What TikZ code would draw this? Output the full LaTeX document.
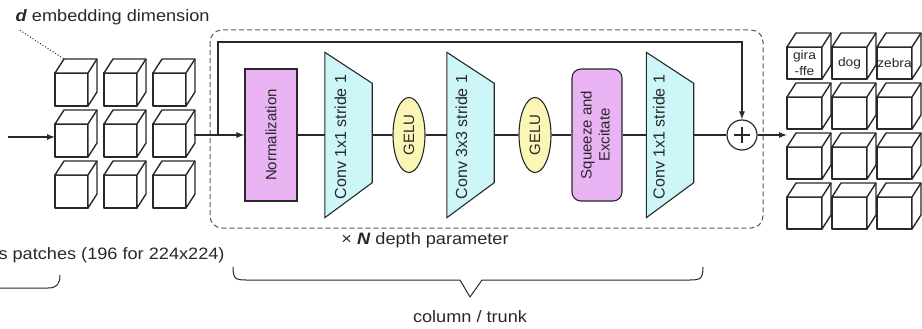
\documentclass[tikz,border=0pt]{standalone}
\usepackage{fontspec}
\setmainfont{Liberation Sans}
\newfontfamily\widesans[FakeStretch=1.1]{Liberation Sans}
\usepackage{graphicx}
\usepackage{tikz}
\usetikzlibrary{arrows.meta}
\usetikzlibrary{shapes.geometric}
\usetikzlibrary{positioning}

\definecolor{normviolet}{RGB}{234,180,244}
\definecolor{convcyan}{RGB}{204,246,248}
\definecolor{geluyellow}{RGB}{252,246,182}
\definecolor{inkgray}{RGB}{40,40,40}

% one patch cube, front face top left at (#1,#2), size #3 x #4
\newcommand{\patchcube}[4]{%
  \filldraw[cubeline] (#1,#2) rectangle ++(#3,#4);
  \filldraw[cubeline] (#1,#2) -- ++(9,-14) -- ++(#3,0) -- ++(0,#4) -- ++(-9,14) -- ++(0,-#4) -- cycle;
  \draw[cubeline] (#1+#3,#2) -- ++(9,-14);
}
% trapezoid behind an (empty) conv node
\newcommand{\convtrap}[1]{%
  \draw[trapline] (#1.north west) -- ([yshift=-31pt]#1.north east) -- ([yshift=35pt]#1.south east) -- (#1.south west) -- cycle;
}

\begin{document}
\begin{tikzpicture}[x=1pt, y=-1pt, >={Latex[length=8pt,width=6pt]},
    font=\fontsize{16.5}{19}\widesans,
    every node/.append style={text=inkgray},
    flow/.style={draw=inkgray, line width=1.1pt},
    cubeline/.style={draw=inkgray, fill=white, line width=1.4pt, line join=round},
    trapline/.style={draw=inkgray, fill=convcyan, line width=1.1pt},
    normbox/.style={rectangle, draw=inkgray, fill=normviolet, line width=1.1pt, minimum width=52pt, minimum height=132pt, inner sep=0pt, font=\fontsize{15}{18}\selectfont},
    sebox/.style={normbox, minimum width=50pt, rounded corners=9pt},
    convbox/.style={rectangle, minimum width=47pt, minimum height=165pt, inner sep=0pt},
    convtext/.style={inner sep=0pt, font=\fontsize{16}{18}\selectfont},
    gelubox/.style={ellipse, draw=inkgray, fill=geluyellow, line width=1.1pt, minimum width=32pt, minimum height=75pt, inner sep=0pt, font=\fontsize{15}{18}\selectfont},
    addcircle/.style={circle, draw=inkgray, line width=1.2pt, minimum size=30pt, inner sep=0pt},
    cubetext/.style={align=center, inner sep=0pt, font=\fontsize{12.5}{16}\widesans},
    dashbox/.style={draw=black!65, line width=1pt, dash pattern=on 5pt off 3pt, rounded corners=12pt},
    bracket/.style={draw=inkgray, line width=1pt, line join=round}]
    \useasboundingbox (0,0) rectangle (922,329);
    \clip (0,0) rectangle (922,329);

    % input patches
    \patchcube{55}{73}{33}{33}
    \patchcube{104}{73}{33}{33}
    \patchcube{153}{73}{33}{33}
    \patchcube{55}{124}{33}{33}
    \patchcube{104}{124}{33}{33}
    \patchcube{153}{124}{33}{33}
    \patchcube{55}{175}{33}{33}
    \patchcube{104}{175}{33}{33}
    \patchcube{153}{175}{33}{33}

    \node (dimlabel) [anchor=west] at (12,17) {\textbf{\textit{d}} embedding dimension};
    \coordinate (cubecorner) at (64,59);
    \draw[inkgray, dotted, line width=1pt] ([xshift=8pt,yshift=-2pt]dimlabel.south west) -- (cubecorner);
    \node (patchlabel) [anchor=west] at (-5,255) {s patches (196 for 224x224)};
    \draw[bracket] (0,288) -- (48,288) .. controls (57,288) and (60,284) .. (60,275);

    \coordinate (leftend) at (8,137);
    \coordinate (gridin) at (55,137);
    \draw[flow, ->] (leftend) -- (gridin);

    % block
    \draw[dashbox] (210,30) rectangle (763,228);

    \node (norm) [normbox] at (271,135) {\rotatebox{90}{Normalization}};
    \node (convA) [convbox] at (348.5,135) {};
    \convtrap{convA}
    \node (convAtxt) [convtext] at ([xshift=-8pt,yshift=-2pt]convA.center) {\rotatebox{90}{Conv 1x1 stride 1}};
    \node (geluA) [gelubox] at (409,135) {\rotatebox{90}{GELU}};
    \node (convB) [convbox] at (470.5,135) {};
    \convtrap{convB}
    \node (convBtxt) [convtext] at ([xshift=-9pt,yshift=-2pt]convB.center) {\rotatebox{90}{Conv 3x3 stride 1}};
    \node (geluB) [gelubox] at (535,135) {\rotatebox{90}{GELU}};
    \node (sqex) [sebox] at (597,135) {\rotatebox{90}{\begin{tabular}{@{}c@{}}Squeeze and\\Excitate\end{tabular}}};
    \node (convC) [convbox] at (670,135) {};
    \convtrap{convC}
    \node (convCtxt) [convtext] at ([xshift=-11pt,yshift=-2pt]convC.center) {\rotatebox{90}{Conv 1x1 stride 1}};
    \node (add) [addcircle] at (742,135) {};
    \draw[flow, line width=1.3pt] ([xshift=-8pt]add.center) -- ([xshift=8pt]add.center);
    \draw[flow, line width=1.3pt] ([yshift=-8pt]add.center) -- ([yshift=8pt]add.center);

    \coordinate (gridout) at (194,135);
    \coordinate (skip) at (218,135);
    \coordinate (skiptop) at (218,42);
    \draw[flow, ->] (gridout) -- (norm);
    \draw[flow] (norm) -- (convA);
    \draw[flow] (convA) -- (geluA);
    \draw[flow] (geluA) -- (convB);
    \draw[flow] (convB) -- (geluB);
    \draw[flow] (geluB) -- (sqex);
    \draw[flow] (sqex) -- (convC);
    \draw[flow] (convC) -- (add);
    \draw[flow, ->] (skip) -- (skiptop) -| (add.north);

    \node (depthlabel) at (425,240) {× \textbf{\textit{N}} depth parameter};
    \draw[bracket] (233,267) .. controls (233,279) and (236,280) .. (246,280) -- (460,280) -- (470,297) -- (482,280) -- (690,280) .. controls (700,280) and (703,279) .. (703,267);
    \node (trunklabel) at (470,317) {column / trunk};

    % output patches with class labels
    \coordinate (gridR) at (787,135);
    \draw[flow, ->] (add) -- (gridR);
    \patchcube{787}{47}{35}{32}
    \patchcube{832}{47}{35}{32}
    \patchcube{877}{47}{35}{32}
    \patchcube{787}{97}{35}{32}
    \patchcube{832}{97}{35}{32}
    \patchcube{877}{97}{35}{32}
    \patchcube{787}{147}{35}{32}
    \patchcube{832}{147}{35}{32}
    \patchcube{877}{147}{35}{32}
    \patchcube{787}{197}{35}{32}
    \patchcube{832}{197}{35}{32}
    \patchcube{877}{197}{35}{32}
    \node (giraffe) [cubetext] at (804.5,63) {gira\\-ffe};
    \node (dog) [cubetext] at (849.5,63) {dog};
    \node (zebra) [cubetext] at (894.5,63) {zebra};
\end{tikzpicture}
\end{document}
